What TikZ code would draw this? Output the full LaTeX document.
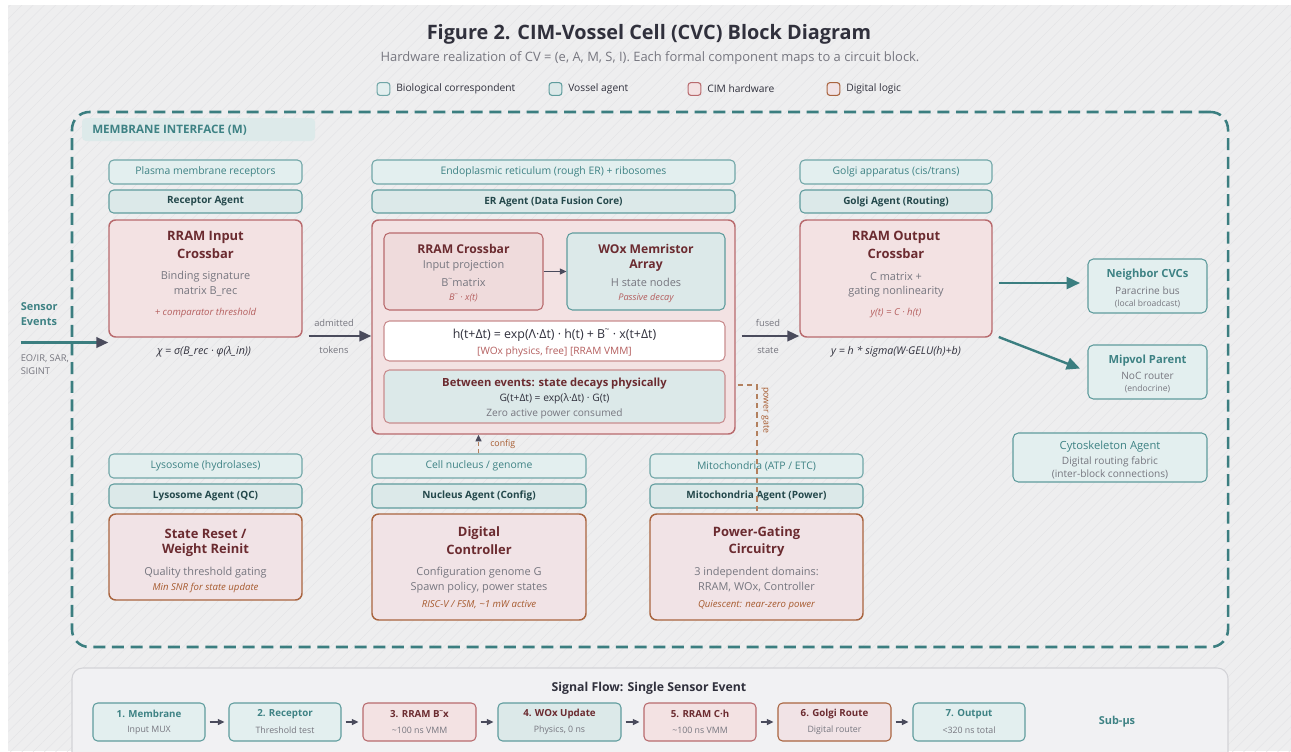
\documentclass[tikz,border=0pt]{standalone}
\usepackage{fontspec}
\usepackage{graphicx}
\IfFontExistsTF{Noto Sans Bold}
  {\setmainfont{Noto Sans}[BoldFont={Noto Sans Bold}]}
  {\IfFontExistsTF{Open Sans Bold}
    {\setmainfont{Open Sans}[BoldFont={Open Sans Bold}]}
    {\setmainfont{Noto Sans}[BoldFont={Noto Sans}, BoldFeatures={FakeBold=2.5}]}}
\usetikzlibrary{fit,arrows.meta,patterns.meta}

% palette
\definecolor{bgGray}{HTML}{EEEEEF}
\definecolor{hatch}{HTML}{E5E5E7}
\definecolor{teal}{HTML}{3B7E80}
\definecolor{tealTxt}{HTML}{3E8284}
\definecolor{bioF}{HTML}{E3EFEF}
\definecolor{bioB}{HTML}{70A6A7}
\definecolor{agF}{HTML}{DCE9E9}
\definecolor{agB}{HTML}{5F9C9D}
\definecolor{agTxt}{HTML}{24484B}
\definecolor{cimF}{HTML}{F3E2E3}
\definecolor{cimFd}{HTML}{EFDBDC}
\definecolor{cimB}{HTML}{B86A6D}
\definecolor{cimBl}{HTML}{C98C8E}
\definecolor{cimTxt}{HTML}{6B2B30}
\definecolor{digF}{HTML}{F1E3E6}
\definecolor{digB}{HTML}{A9643F}
\definecolor{grayTxt}{HTML}{76767F}
\definecolor{redIt}{HTML}{B45E5E}
\definecolor{brownIt}{HTML}{A65A2E}
\definecolor{darkTxt}{HTML}{30303C}
\definecolor{arrowDk}{HTML}{4A4B5C}
\definecolor{gateBr}{HTML}{B3805E}
\definecolor{stripF}{HTML}{DDEAEA}
\definecolor{panelF}{HTML}{F1F1F3}
\definecolor{panelB}{HTML}{D3D3D7}

\newcommand\fz[1]{\fontsize{#1}{#1}\selectfont}
% B followed by a small raised tilde mark
\newcommand\Bt{\mbox{B\kern-0.04em\raisebox{0.5em}{\scalebox{0.7}{\textasciitilde}}}}

\tikzset{
  x=0.75pt, y=-0.75pt,
  box/.style={inner sep=0pt, rounded corners=3.5pt, line width=0.8pt},
  biobox/.style={box, draw=bioB, fill=bioF},
  agbox/.style={box, draw=agB, fill=agF},
  cimbox/.style={box, draw=cimB, fill=cimF, rounded corners=5pt, line width=1.1pt},
  digbox/.style={box, draw=digB, fill=digF, rounded corners=5pt, line width=1.1pt},
  txt/.style={inner sep=0pt, anchor=center},
  tBio/.style={txt, text=tealTxt, font=\fz{7.8}},
  tAg/.style={txt, text=agTxt, font=\fz{7.5}\bfseries},
  tHead/.style={txt, text=cimTxt, font=\fz{9.7}\bfseries},
  tGray/.style={txt, text=grayTxt, font=\fz{8.2}},
  tRed/.style={txt, text=redIt, font=\fz{7.2}\itshape},
  tBrown/.style={txt, text=brownIt, font=\fz{7.2}\itshape},
  tDark/.style={txt, text=darkTxt, font=\fz{8}\itshape},
  tSmall/.style={txt, text=grayTxt, font=\fz{6.8}},
  flowT/.style={txt, font=\fz{7.3}\bfseries},
  flowS/.style={txt, text=grayTxt, font=\fz{6.6}},
  darrow/.style={draw=arrowDk, line width=1.6pt, -{Triangle[length=9pt,width=8pt]}},
  sarrow/.style={draw=arrowDk, line width=1pt, -{Triangle[length=5pt,width=4.5pt]}},
  tarrow/.style={draw=teal, line width=1.8pt, -{Triangle[length=10pt,width=9pt]}},
  gate/.style={draw=gateBr, line width=1pt, dash pattern=on 4pt off 3pt},
  legsq/.style={inner sep=0pt, minimum size=9.5pt, rounded corners=2pt, line width=0.8pt},
}

\begin{document}
\begin{tikzpicture}
\useasboundingbox (0,0) rectangle (1291,751);
\fill[white] (0,0) rectangle (1291,751);
\fill[bgGray] (8,5) rectangle (1291,751);
\fill[pattern={Lines[angle=45,distance=6pt,line width=0.4pt]}, pattern color=hatch] (8,5) rectangle (1291,751);

% heading
\node[txt, text=darkTxt, font=\fz{14.9}\bfseries] (title) at (649,34) {Figure 2. CIM-Vossel Cell (CVC) Block Diagram};
\node[txt, text=grayTxt, font=\fz{9.7}] (subtitle) at (650,58) {Hardware realization of CV = (e, A, M, S, I). Each formal component maps to a circuit block.};

% legend
\node[legsq, draw=bioB, fill=bioF] (lg1) at (383.5,89) {};
\node[txt, anchor=west, text=darkTxt, font=\fz{7.7}] (lg1t) at (396,89) {Biological correspondent};
\node[legsq, draw=agB, fill=agF] (lg2) at (555.5,89) {};
\node[txt, anchor=west, text=darkTxt, font=\fz{7.7}] (lg2t) at (568,89) {Vossel agent};
\node[legsq, draw=cimB, fill=cimF] (lg3) at (694.5,89) {};
\node[txt, anchor=west, text=darkTxt, font=\fz{7.7}] (lg3t) at (707,89) {CIM hardware};
\node[legsq, draw=digB, fill=digF] (lg4) at (833.5,89) {};
\node[txt, anchor=west, text=darkTxt, font=\fz{7.7}] (lg4t) at (846,89) {Digital logic};

% membrane boundary
\node[fit={(72,112)(1228,647)}, inner sep=0pt, draw=teal, line width=1.9pt, dash pattern=on 9pt off 5pt, rounded corners=13pt] (membrane) {};
\node[fit={(82,118)(315,141)}, inner sep=0pt, fill=stripF, rounded corners=3pt] (mstrip) {};
\node[txt, anchor=west, text=tealTxt, font=\fz{8.7}\bfseries] (mlabel) at (92,130) {MEMBRANE INTERFACE (M)};

% ---------- receptor column ----------
\node[biobox, fit={(109,160)(302,184)}] (recbio) {};
\node[tBio] at (recbio.center) {Plasma membrane receptors};
\node[agbox, fit={(109,190)(302,213)}] (recag) {};
\node[tAg] at (recag.center) {Receptor Agent};
\node[cimbox, fit={(109,220)(302,337)}] (rin) {};
\node[tHead] (rin1) at (205.5,237) {RRAM Input};
\node[tHead] (rin2) at (205.5,254) {Crossbar};
\node[tGray] (rin3) at (205.5,276.5) {Binding signature};
\node[tGray] (rin4) at (205.5,291) {matrix B\_rec};
\node[tRed] (rin5) at (205.5,313) {+ comparator threshold};
\node[tDark] (rineq) at (204,352) {χ = σ(B\_rec · φ(λ\_in))};

% sensor input
\node[txt, anchor=west, text=tealTxt, font=\fz{8.2}\bfseries] (sens1) at (20.5,307) {Sensor};
\node[txt, anchor=west, text=tealTxt, font=\fz{8.2}\bfseries] (sens2) at (20.5,322) {Events};
\node[txt, anchor=west, text=grayTxt, font=\fz{7}] (sens3) at (20.5,359) {EO/IR, SAR,};
\node[txt, anchor=west, text=grayTxt, font=\fz{7}] (sens4) at (20.5,371) {SIGINT};
\coordinate (sensIn) at (20.5,342.5);
\draw[draw=teal, line width=1.6pt, -{Triangle[length=9pt,width=8pt,color=arrowDk]}] (sensIn) -- (sensIn -| rin.west);

% ---------- ER column ----------
\node[biobox, fit={(372,160)(735,184)}] (erbio) {};
\node[tBio] at (erbio.center) {Endoplasmic reticulum (rough ER) + ribosomes};
\node[agbox, fit={(372,190)(735,213)}] (erag) {};
\node[tAg] at (erag.center) {ER Agent (Data Fusion Core)};
\node[cimbox, fit={(372,220)(735,434)}] (ercore) {};

\node[box, draw=cimB, fill=cimFd, fit={(384,233)(543,310)}, rounded corners=4pt] (rcb) {};
\node[tHead, font=\fz{9.1}\bfseries] (rcb1) at (463.5,248.5) {RRAM Crossbar};
\node[tGray] (rcb2) at (463.5,265.5) {Input projection};
\node[tGray] (rcb3) at (463.5,282.5) {\Bt matrix};
\node[tRed, font=\fz{6.9}\itshape] (rcb4) at (463.5,298) {\Bt\ · x(t)};

\node[box, draw=agB, fill=agF, fit={(567,233)(725,310)}, rounded corners=4pt] (wox) {};
\node[tHead, font=\fz{9.1}\bfseries] (wox1) at (646,248.5) {WOx Memristor};
\node[tHead, font=\fz{9.1}\bfseries] (wox2) at (646,265.5) {Array};
\node[tGray] (wox3) at (646,282.5) {H state nodes};
\node[tRed, font=\fz{6.9}\itshape] (wox4) at (646,298) {Passive decay};
\draw[sarrow] (rcb.east |- 0,271.5) -- (wox.west |- 0,271.5);

\node[box, draw=cimBl, fill=white, fit={(384,321)(725,361)}, rounded corners=4pt] (eqbox) {};
\node[txt, text=darkTxt, font=\fz{9.3}] (eq1) at (554.5,335) {h(t+Δt) = exp(Λ·Δt) · h(t) + \Bt\ · x(t+Δt)};
\node[txt, text=redIt, font=\fz{7.6}] (eq2) at (554.5,351.5) {[WOx physics, free] [RRAM VMM]};

\node[box, draw=cimBl, fill=agF, fit={(384,370)(725,423)}, rounded corners=4pt] (decay) {};
\node[tHead, font=\fz{8.4}\bfseries] (dec1) at (554.5,383.5) {Between events: state decays physically};
\node[txt, text=darkTxt, font=\fz{7.7}] (dec2) at (554.5,398.5) {G(t+Δt) = exp(λ·Δt) · G(t)};
\node[tGray, font=\fz{7.6}] (dec3) at (554.5,413.5) {Zero active power consumed};

\node[txt, text=grayTxt, font=\fz{7}] (adm1) at (334,323) {admitted};
\node[txt, text=grayTxt, font=\fz{7}] (adm2) at (334,350) {tokens};
\draw[darrow] (rin.east |- 0,336) ++(6,0) -- (ercore.west |- 0,336);

% ---------- Golgi column ----------
\node[biobox, fit={(800,160)(992,184)}] (golbio) {};
\node[tBio] at (golbio.center) {Golgi apparatus (cis/trans)};
\node[agbox, fit={(800,190)(992,213)}] (golag) {};
\node[tAg] at (golag.center) {Golgi Agent (Routing)};
\node[cimbox, fit={(800,220)(992,337)}] (rout) {};
\node[tHead] (rout1) at (896,237) {RRAM Output};
\node[tHead] (rout2) at (896,254) {Crossbar};
\node[tGray] (rout3) at (896,276.5) {C matrix +};
\node[tGray] (rout4) at (896,291.5) {gating nonlinearity};
\node[tRed] (rout5) at (896,313) {y(t) = C · h(t)};
\node[tDark] (routeq) at (896,352) {y = h * sigma(W·GELU(h)+b)};

\node[txt, text=grayTxt, font=\fz{7}] (fus1) at (768,323) {fused};
\node[txt, text=grayTxt, font=\fz{7}] (fus2) at (768,350) {state};
\draw[darrow] (ercore.east |- 0,336) ++(6,0) -- (rout.west |- 0,336);

% ---------- neighbours ----------
\node[box, draw=agB, fill=bioF, fit={(1088,259)(1207,313)}, rounded corners=4pt] (neigh) {};
\node[txt, text=tealTxt, font=\fz{8.4}\bfseries] (neigh1) at (1147.5,275) {Neighbor CVCs};
\node[tGray, font=\fz{7.6}] (neigh2) at (1147.5,290.5) {Paracrine bus};
\node[tSmall, font=\fz{6.4}] (neigh3) at (1147.5,303.5) {(local broadcast)};
\node[box, draw=agB, fill=bioF, fit={(1088,345)(1207,399)}, rounded corners=4pt] (parent) {};
\node[txt, text=tealTxt, font=\fz{8.4}\bfseries] (par1) at (1147.5,361) {Mipvol Parent};
\node[tGray, font=\fz{7.6}] (par2) at (1147.5,376) {NoC router};
\node[tSmall, font=\fz{6.4}] (par3) at (1147.5,389) {(endocrine)};
\node[box, draw=agB, fill=bioF, fit={(1013,433)(1207,482)}, rounded corners=4pt] (cyto) {};
\node[tBio, font=\fz{8.4}] (cyto1) at (1110,447) {Cytoskeleton Agent};
\node[tGray, font=\fz{7.6}] (cyto2) at (1110,461.5) {Digital routing fabric};
\node[tGray, font=\fz{7.6}] (cyto3) at (1110,474.5) {(inter-block connections)};

\draw[tarrow] (rout.east |- 0,283) ++(6,0) -- (1080,283) coordinate (nbTip);
\draw[tarrow] (rout.east |- 0,337) ++(6,0) -- (1080,368.5) coordinate (paTip);

% ---------- lysosome column ----------
\node[biobox, fit={(109,454)(302,478)}] (lysbio) {};
\node[tBio] at (lysbio.center) {Lysosome (hydrolases)};
\node[agbox, fit={(109,484)(302,508)}] (lysag) {};
\node[tAg] at (lysag.center) {Lysosome Agent (QC)};
\node[digbox, fit={(109,514)(302,600)}] (reset) {};
\node[tHead] (res1) at (205.5,534) {State Reset /};
\node[tHead] (res2) at (205.5,550.5) {Weight Reinit};
\node[tGray] (res3) at (205.5,572.5) {Quality threshold gating};
\node[tBrown] (res4) at (205.5,587.5) {Min SNR for state update};

% ---------- nucleus column ----------
\node[biobox, fit={(372,454)(586,478)}] (nucbio) {};
\node[tBio] at (nucbio.center) {Cell nucleus / genome};
\node[agbox, fit={(372,484)(586,508)}] (nucag) {};
\node[tAg] at (nucag.center) {Nucleus Agent (Config)};
\node[digbox, fit={(372,514)(586,620)}] (ctrl) {};
\node[tHead] (ctl1) at (479,533.5) {Digital};
\node[tHead] (ctl2) at (479,550) {Controller};
\node[tGray] (ctl3) at (479,572.5) {Configuration genome G};
\node[tGray] (ctl4) at (479,587.5) {Spawn policy, power states};
\node[tBrown] (ctl5) at (479,605) {RISC-V / FSM, \textasciitilde1 mW active};
\draw[draw=gateBr, line width=1pt, dash pattern=on 3pt off 2.5pt, -{Triangle[length=5pt,width=4.5pt,color=arrowDk]}] (nucbio.north -| 478.5,0) -- (ercore.south -| 478.5,0);
\node[txt, anchor=west, text=brownIt, font=\fz{6.6}] (cfg) at (490,444.5) {config};

% ---------- mitochondria column ----------
\node[biobox, fit={(650,454)(863,478)}] (mitbio) {};
\node[tBio] at (mitbio.center) {Mitochondria (ATP / ETC)};
\node[agbox, fit={(650,484)(863,508)}] (mitag) {};
\node[tAg] at (mitag.center) {Mitochondria Agent (Power)};
\node[digbox, fit={(650,514)(863,620)}] (power) {};
\node[tHead] (pw1) at (756.5,533.5) {Power-Gating};
\node[tHead] (pw2) at (756.5,550) {Circuitry};
\node[tGray] (pw3) at (756.5,572.5) {3 independent domains:};
\node[tGray] (pw4) at (756.5,587.5) {RRAM, WOx, Controller};
\node[tBrown] (pw5) at (756.5,605) {Quiescent: near-zero power};

\coordinate (gturn) at (757,385);
\draw[gate] (gturn -| ercore.east) ++(2,0) -- (gturn) -- (gturn |- power.north);
\node[txt, anchor=west, rotate=-90, text=brownIt, font=\fz{6.6}] (gtxt) at (765.5,387) {power gate};

% ---------- signal flow strip ----------
\node[fit={(72,668)(1228,775)}, inner sep=0pt, draw=panelB, fill=panelF, line width=0.8pt, rounded corners=8pt] (panel) {};
\node[txt, text=darkTxt, font=\fz{9.2}\bfseries] (ptitle) at (649,688) {Signal Flow: Single Sensor Event};

\node[biobox, draw=agB, fit={(93,703)(205,741)}] (f1) {};
\node[flowT, text=tealTxt] at (149,714) {1. Membrane};
\node[flowS] at (149,730) {Input MUX};
\node[biobox, draw=agB, fit={(229,703)(341,741)}] (f2) {};
\node[flowT, text=tealTxt] at (285,714) {2. Receptor};
\node[flowS] at (285,730) {Threshold test};
\node[cimbox, line width=0.8pt, rounded corners=3.5pt, fit={(363,703)(476,741)}] (f3) {};
\node[flowT, text=cimTxt] at (419.5,714) {3. RRAM \Bt x};
\node[flowS] at (419.5,730) {\textasciitilde100 ns VMM};
\node[agbox, fit={(498,703)(621,741)}] (f4) {};
\node[flowT, text=cimTxt] at (559.5,714) {4. WOx Update};
\node[flowS] at (559.5,730) {Physics, 0 ns};
\node[cimbox, line width=0.8pt, rounded corners=3.5pt, fit={(644,703)(756,741)}] (f5) {};
\node[flowT, text=cimTxt] at (700,714) {5. RRAM C·h};
\node[flowS] at (700,730) {\textasciitilde100 ns VMM};
\node[digbox, line width=0.8pt, rounded corners=3.5pt, fit={(778,703)(891,741)}] (f6) {};
\node[flowT, text=cimTxt] at (834.5,714) {6. Golgi Route};
\node[flowS] at (834.5,730) {Digital router};
\node[biobox, draw=agB, fit={(913,703)(1025,741)}] (f7) {};
\node[flowT, text=tealTxt] at (969,714) {7. Output};
\node[flowS] at (969,730) {<320 ns total};
\node[txt, text=tealTxt, font=\fz{8.2}\bfseries] (subus) at (1117,722) {Sub-μs};

\foreach \a/\b in {f1/f2,f2/f3,f3/f4,f4/f5,f5/f6,f6/f7}
  \draw[sarrow] ([xshift=3pt]\a.east) -- ([xshift=-3pt]\b.west);
\end{tikzpicture}
\end{document}
